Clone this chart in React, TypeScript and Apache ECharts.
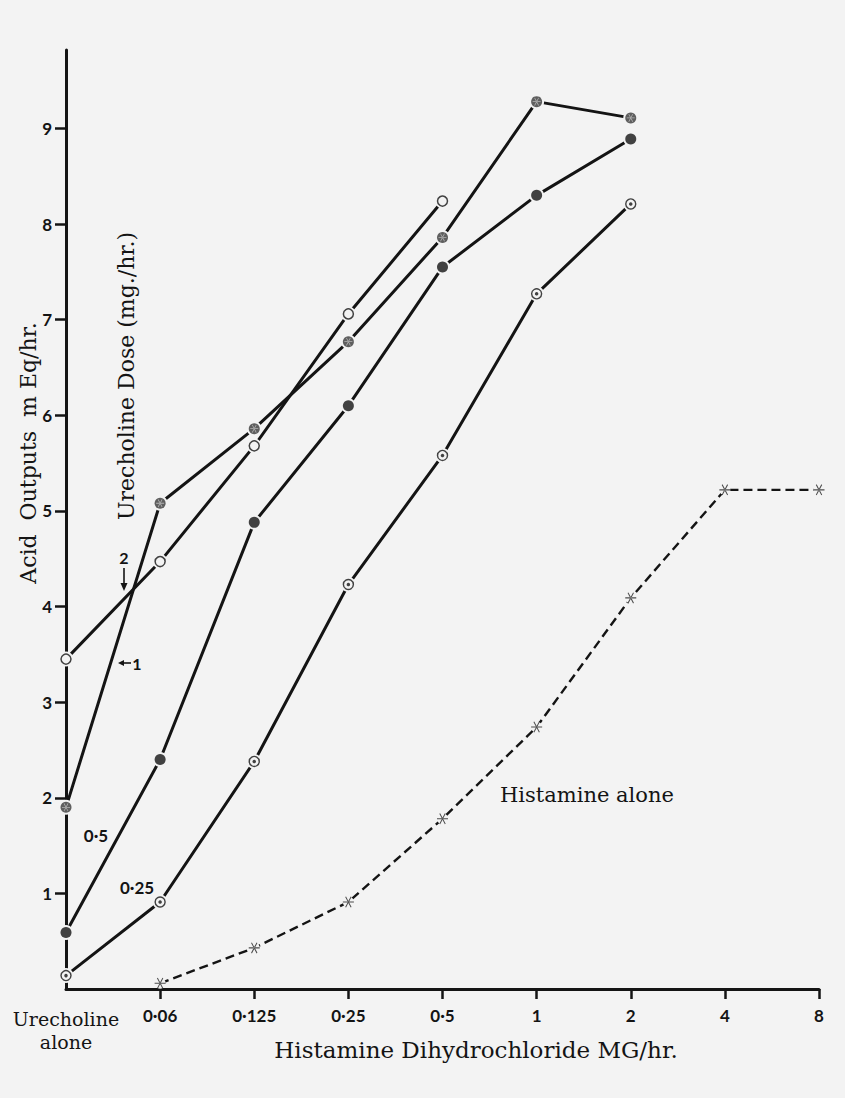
import React, { useEffect, useRef } from "react";
import * as echarts from "echarts";

// Histamine dose categories (mg/hr); the first column is Urecholine given alone
const categories = ["Urecholine\nalone", "0·06", "0·125", "0·25", "0·5", "1", "2", "4", "8"];

// Acid output (mEq/hr) for each Urecholine dose
const urecholine2 = [3.45, 4.47, 5.68, 7.06, 8.24, "-", "-", "-", "-"];
const urecholine1 = [1.9, 5.08, 5.86, 6.77, 7.86, 9.28, 9.11, "-", "-"];
const urecholine05 = [0.59, 2.4, 4.88, 6.1, 7.55, 8.3, 8.89, "-", "-"];
const urecholine025 = [0.14, 0.91, 2.38, 4.23, 5.58, 7.27, 8.21, "-", "-"];
const histamineAlone = ["-", 0.06, 0.43, 0.91, 1.78, 2.74, 4.09, 5.22, 5.22];

const yTicks = [1, 2, 3, 4, 5, 6, 7, 8, 9];

const BG = "#f3f3f3";
const INK = "#141414";
const SCRIPT = "DejaVu Serif";
const BOLD = "Lato";

// three thin spokes through the centre of a 20x20 box
const SPOKES =
  "M1 9.2L19 9.2L19 10.8L1 10.8Z" +
  "M13.807 18.194L15.193 17.394L6.193 1.806L4.807 2.606Z" +
  "M4.807 17.394L6.193 18.194L15.193 2.606L13.807 1.806Z";
const ASTERISK = "path://" + SPOKES;

function lineSeries(name: string, data: any[], dashed = false) {
  return {
    name,
    type: "line",
    data,
    connectNulls: false,
    symbol: "circle",
    symbolSize: dashed ? 11 : 15,
    showSymbol: true,
    itemStyle: { color: BG },
    lineStyle: { color: INK, width: dashed ? 2.4 : 3, type: dashed ? [9, 5] : "solid" },
    z: 2,
  };
}

function markers(data: any[], symbol: string, size: number, itemStyle: any, z = 3) {
  return { type: "scatter", data, symbol, symbolSize: size, itemStyle, z, silent: true };
}

export default function App() {
  const ref = useRef<HTMLDivElement>(null);

  useEffect(() => {
    document.body.style.margin = "0";
    const chart = echarts.init(ref.current!, null, { renderer: "svg" });
    chart.setOption({
      animation: false,
      backgroundColor: BG,
      grid: { left: 66, right: 26, top: 50, bottom: 109 },
      xAxis: {
        type: "category",
        data: categories,
        boundaryGap: false,
        axisLine: { lineStyle: { color: INK, width: 3 } },
        axisTick: {
          interval: (i: number) => i > 0,
          length: 10,
          lineStyle: { color: INK, width: 2.5 },
        },
        axisLabel: {
          interval: 0,
          margin: 18,
          formatter: (v: string, i: number) =>
            i === 0 ? v.split("\n").map((s) => `{u|${s}}`).join("\n") : `{b|${v}}`,
          rich: {
            u: { fontFamily: SCRIPT, fontSize: 19, color: INK, lineHeight: 23 },
            b: { fontFamily: BOLD, fontWeight: "bold", fontSize: 17, color: INK },
          },
        },
        splitLine: { show: false },
      },
      yAxis: {
        type: "value",
        min: 0,
        max: 9.82,
        axisLine: { show: true, lineStyle: { color: INK, width: 3 } },
        axisTick: {
          show: true,
          customValues: yTicks,
          length: 11,
          lineStyle: { color: INK, width: 2.5 },
        },
        axisLabel: {
          customValues: yTicks,
          margin: 14,
          fontFamily: BOLD,
          fontWeight: "bold",
          fontSize: 17,
          color: INK,
        },
        splitLine: { show: false },
      },
      series: [
        lineSeries("Urecholine 2", urecholine2),
        lineSeries("Urecholine 1", urecholine1),
        lineSeries("Urecholine 0·5", urecholine05),
        lineSeries("Urecholine 0·25", urecholine025),
        lineSeries("Histamine alone", histamineAlone, true),
        markers(urecholine2, "circle", 10, { color: BG, borderColor: INK, borderWidth: 1.5 }),
        markers(urecholine1, "circle", 11, { color: "#3a3a3a" }),
        markers(urecholine1, ASTERISK, 8, { color: "#c8c8c8" }, 4),
        markers(urecholine05, "circle", 11, { color: INK }),
        markers(urecholine025, "circle", 10, { color: BG, borderColor: INK, borderWidth: 1.4 }),
        markers(urecholine025, "circle", 3.5, { color: INK }, 4),
        markers(histamineAlone, ASTERISK, 11, { color: "#222" }),
      ],
      graphic: [
        {
          type: "text",
          x: 28,
          y: 453,
          rotation: Math.PI / 2,
          style: {
            text: "Acid  Outputs  m Eq/hr.",
            fontFamily: SCRIPT,
            fontSize: 22,
            fill: INK,
            align: "center",
            verticalAlign: "middle",
          },
        },
        {
          type: "text",
          x: 126,
          y: 376,
          rotation: Math.PI / 2,
          style: {
            text: "Urecholine Dose (mg./hr.)",
            fontFamily: SCRIPT,
            fontSize: 22,
            fill: INK,
            align: "center",
            verticalAlign: "middle",
          },
        },
        {
          type: "text",
          x: 476,
          y: 1050,
          style: {
            text: "Histamine Dihydrochloride MG/hr.",
            fontFamily: SCRIPT,
            fontSize: 23,
            fill: INK,
            align: "center",
            verticalAlign: "middle",
          },
        },
        {
          type: "text",
          x: 500,
          y: 795,
          style: {
            text: "Histamine alone",
            fontFamily: SCRIPT,
            fontSize: 21,
            fill: INK,
            align: "left",
            verticalAlign: "middle",
          },
        },
        {
          type: "text",
          x: 96,
          y: 835,
          style: { text: "0·5", fontFamily: BOLD, fontWeight: "bold", fontSize: 17, fill: INK, align: "center", verticalAlign: "middle" },
        },
        {
          type: "text",
          x: 137,
          y: 887,
          style: { text: "0·25", fontFamily: BOLD, fontWeight: "bold", fontSize: 17, fill: INK, align: "center", verticalAlign: "middle" },
        },
        {
          type: "text",
          x: 124,
          y: 557,
          style: { text: "2", fontFamily: BOLD, fontWeight: "bold", fontSize: 16, fill: INK, align: "center", verticalAlign: "middle" },
        },
        { type: "line", shape: { x1: 124, y1: 568, x2: 124, y2: 585 }, style: { stroke: INK, lineWidth: 1.6 } },
        { type: "polygon", shape: { points: [[120.5, 583], [127.5, 583], [124, 591]] }, style: { fill: INK } },
        { type: "line", shape: { x1: 123, y1: 663, x2: 131, y2: 663 }, style: { stroke: INK, lineWidth: 1.6 } },
        { type: "polygon", shape: { points: [[118, 663], [124, 660], [124, 666]] }, style: { fill: INK } },
        {
          type: "text",
          x: 137,
          y: 663,
          style: { text: "1", fontFamily: BOLD, fontWeight: "bold", fontSize: 16, fill: INK, align: "center", verticalAlign: "middle" },
        },
      ],
    });
    return () => chart.dispose();
  }, []);

  return <div ref={ref} style={{ width: 845, height: 1098, background: BG }} />;
}
